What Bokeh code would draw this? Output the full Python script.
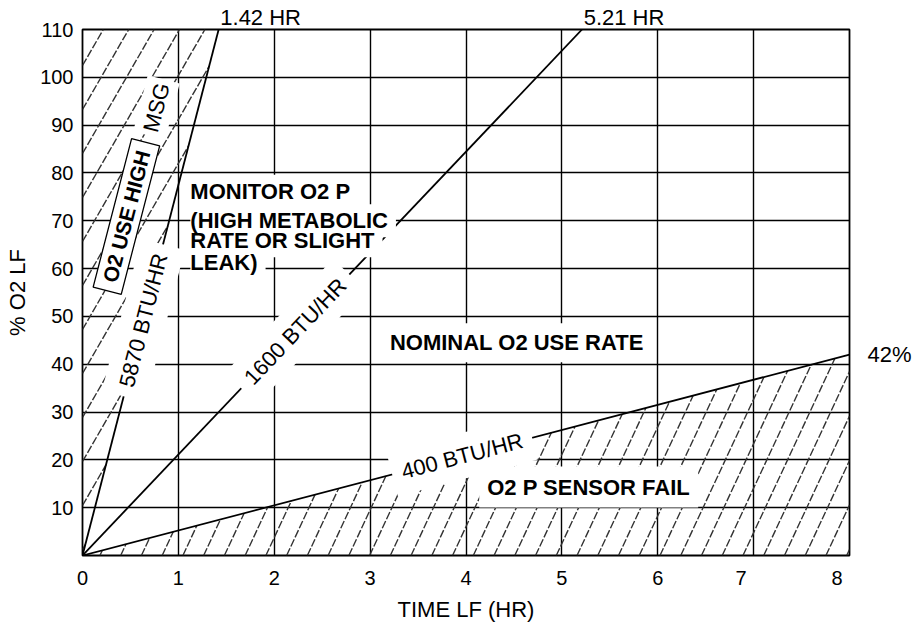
import math
from bokeh.plotting import figure
from bokeh.models import FixedTicker, LinearAxis
from bokeh.core.properties import value
from bokeh.embed import file_html
from bokeh.resources import INLINE

# ---------------- data ----------------
x_ticks = [0, 1, 2, 3, 4, 5, 6, 7, 8]
y_ticks = [10, 20, 30, 40, 50, 60, 70, 80, 90, 100, 110]
x_grid = [1, 2, 3, 4, 5, 6, 7]
y_grid = [10, 20, 30, 40, 50, 60, 70, 80, 90, 100]

rate_labels = ["5870 BTU/HR", "1600 BTU/HR", "400 BTU/HR"]
end_x = [1.42, 5.21, 8.0]
end_y = [110, 110, 42]
end_labels = ["1.42 HR", "5.21 HR", "42%"]

monitor_lines = ["MONITOR O2 P", "(HIGH METABOLIC", "RATE OR SLIGHT", "LEAK)"]
monitor_y = [76.2, 70.0, 65.8, 61.3]
nominal_text = "NOMINAL O2 USE RATE"
sensor_text = "O2 P SENSOR FAIL"
high_text = "O2 USE HIGH"
msg_text = "MSG"

X0, X1, Y0, Y1 = 0, 8, 0, 110

# ---------------- layout ----------------
W, H = 915, 626
BL, BR, BT, BB = 82, 66, 29, 71
FW, FH = W - BL - BR, H - BT - BB
ppx = FW / (X1 - X0)
ppy = FH / (Y1 - Y0)

FONT = "Liberation Sans"

p = figure(width=W, height=H, x_range=(X0, X1), y_range=(Y0, Y1),
           output_backend="svg", toolbar_location=None,
           min_border_left=BL, min_border_right=BR, min_border_top=BT, min_border_bottom=BB)
p.background_fill_color = "white"
p.border_fill_color = "white"
p.outline_line_color = "black"
p.outline_line_width = 1.8

# grid
p.xgrid.ticker = FixedTicker(ticks=x_grid)
p.ygrid.ticker = FixedTicker(ticks=y_grid)
for g in (p.xgrid, p.ygrid):
    g.grid_line_color = "black"
    g.grid_line_width = 1.4
    g.grid_line_alpha = 1.0


def style_axis(ax, size="20px"):
    ax.axis_line_color = None
    ax.major_tick_line_color = None
    ax.minor_tick_line_color = None
    ax.major_tick_out = 0
    ax.major_tick_in = 0
    ax.minor_tick_out = 0
    ax.minor_tick_in = 0
    ax.major_label_text_font = FONT
    ax.major_label_text_font_size = size
    ax.major_label_text_color = "black"
    ax.axis_label_text_font = FONT
    ax.axis_label_text_font_size = "22px"
    ax.axis_label_text_font_style = "normal"
    ax.axis_label_text_color = "black"


# main axes
x_label_pos = [t - (0.13 if t >= 7 else 0.0) for t in x_ticks]
p.xaxis.ticker = FixedTicker(ticks=x_label_pos)
p.xaxis.major_label_overrides = {pos: str(t) for pos, t in zip(x_label_pos, x_ticks)}
p.yaxis.ticker = FixedTicker(ticks=y_ticks)
style_axis(p.xaxis[0])
style_axis(p.yaxis[0])
p.xaxis.major_label_standoff = 15
p.yaxis.major_label_standoff = 9
p.xaxis.axis_label = "TIME LF (HR)"
p.yaxis.axis_label = "% O2 LF"
p.xaxis.axis_label_standoff = 9
p.yaxis.axis_label_standoff = 7

# end labels as extra axes (outside the frame)
top_pos = [ex + (4 + 38) / ppx for ex, ey in zip(end_x, end_y) if ey >= Y1]
top_txt = [lab for lab, ey in zip(end_labels, end_y) if ey >= Y1]
top_axis = LinearAxis(ticker=FixedTicker(ticks=top_pos),
                      major_label_overrides={pos: t for pos, t in zip(top_pos, top_txt)})
style_axis(top_axis, "22px")
top_axis.major_label_standoff = 0
p.add_layout(top_axis, "above")

right_pos = [ey for ey in end_y if ey < Y1]
right_txt = [lab for lab, ey in zip(end_labels, end_y) if ey < Y1]
right_axis = LinearAxis(ticker=FixedTicker(ticks=right_pos),
                        major_label_overrides={pos: t for pos, t in zip(right_pos, right_txt)})
style_axis(right_axis, "22px")
right_axis.major_label_standoff = 18
p.add_layout(right_axis, "right")


# ---------------- hatching ----------------
def hatch(poly, angle_deg, spacing, phase=0.0):
    P = [(x * ppx, y * ppy) for x, y in poly]
    th = math.radians(angle_deg)
    nx, ny = -math.sin(th), math.cos(th)
    proj = [nx * a + ny * b for a, b in P]
    k = math.ceil((min(proj) - phase) / spacing)
    xs, ys = [], []
    while True:
        c = phase + k * spacing
        if c > max(proj):
            break
        pts = []
        n = len(P)
        for i in range(n):
            a, b = P[i], P[(i + 1) % n]
            pa, pb = proj[i], proj[(i + 1) % n]
            if (pa <= c < pb) or (pb <= c < pa):
                t = (c - pa) / (pb - pa)
                pts.append((a[0] + t * (b[0] - a[0]), a[1] + t * (b[1] - a[1])))
        if len(pts) >= 2:
            pts.sort()
            xs.append([pts[0][0] / ppx, pts[-1][0] / ppx])
            ys.append([pts[0][1] / ppy, pts[-1][1] / ppy])
        k += 1
    return xs, ys


high_poly = [(0, 0), (end_x[0], end_y[0]), (0, Y1)]
fail_poly = [(0, 0), (end_x[2], end_y[2]), (end_x[2], 0)]
for poly, ang, sp in ((high_poly, 60, 22.0), (fail_poly, 65, 18.8)):
    hx, hy = hatch(poly, ang, sp, 3.0)
    p.multi_line(hx, hy, line_color="#333333", line_width=1.4, line_dash="8 2")

# ---------------- rate lines ----------------
p.segment(x0=[0] * 3, y0=[0] * 3, x1=end_x, y1=end_y, line_color="black", line_width=1.8)


def screen_angle(dx, dy):
    return math.atan2(dy * ppy, dx * ppx)


label_frac = [0.447, 0.426, 0.495]
for lab, ex, ey, f in zip(rate_labels, end_x, end_y, label_frac):
    p.text(x=[ex * f], y=[ey * f], text=[lab], angle=screen_angle(ex, ey),
           text_align="center", text_baseline="middle",
           text_font=value(FONT), text_font_size="22px", text_color="black",
           background_fill_color="white", padding=10)

# region texts
mon_kw = dict(text_align="left", text_baseline="middle", text_font=value(FONT),
              text_font_size="22px", text_font_style="bold")
p.text(x=[1.125] * len(monitor_lines), y=monitor_y, text=monitor_lines,
       text_alpha=0.0, background_fill_color="white", padding=4, **mon_kw)
p.text(x=[1.125] * len(monitor_lines), y=monitor_y, text=monitor_lines,
       text_color="black", **mon_kw)

p.text(x=[4.53], y=[44.5], text=[nominal_text], text_align="center", text_baseline="middle",
       text_font=value(FONT), text_font_size="22px", text_font_style="bold",
       text_color="black", background_fill_color="white", padding=7)
p.text(x=[5.28], y=[14.3], text=[sensor_text], text_align="center", text_baseline="middle",
       text_font=value(FONT), text_font_size="22px", text_font_style="bold",
       text_color="black", background_fill_color="white", padding=8)

ang_high = screen_angle(end_x[0], end_y[0])
p.text(x=[0.458], y=[70.9], text=[high_text], angle=ang_high,
       text_align="center", text_baseline="middle",
       text_font=value(FONT), text_font_size="21px", text_font_style="bold",
       text_color="black", background_fill_color="white",
       border_line_color="black", border_line_width=1.3,
       padding=dict(left=9, right=9, top=3, bottom=3))
p.text(x=[0.771], y=[93.7], text=[msg_text], angle=ang_high,
       text_align="center", text_baseline="middle",
       text_font=value(FONT), text_font_size="22px",
       text_color="black", background_fill_color="white", padding=4)

open("out.html", "w").write(file_html(p, INLINE))
